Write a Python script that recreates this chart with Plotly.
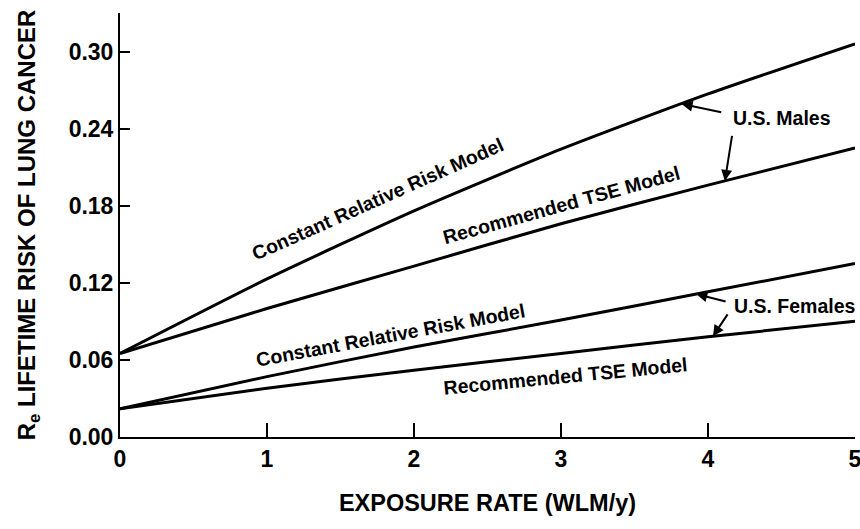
import numpy as np
import plotly.graph_objects as go

exposure = [0, 1, 2, 3, 4, 5]
male_crr = [0.065, 0.123, 0.176, 0.224, 0.267, 0.306]
male_tse = [0.065, 0.100, 0.133, 0.166, 0.196, 0.225]
female_crr = [0.022, 0.047, 0.070, 0.091, 0.113, 0.135]
female_tse = [0.022, 0.038, 0.052, 0.065, 0.078, 0.090]

x_ticks = [0, 1, 2, 3, 4, 5]
y_ticks = [0.00, 0.06, 0.12, 0.18, 0.24, 0.30]
y_tick_text = ["0.00", "0.06", "0.12", "0.18", "0.24", "0.30"]

FONT = "Liberation Sans, Arial, Helvetica, sans-serif"

fig = go.Figure()
for ys in [male_crr, male_tse, female_crr, female_tse]:
    fig.add_trace(go.Scatter(x=exposure, y=ys, mode="lines",
                             line=dict(color="black", width=3, shape="spline", smoothing=0.6),
                             showlegend=False, hoverinfo="skip"))

labels = [
    ("Constant Relative Risk Model", 1.75, 0.1855, -24.0),
    ("Recommended TSE Model", 3.0, 0.1805, -15.5),
    ("Constant Relative Risk Model", 1.84, 0.0795, -10.5),
    ("Recommended TSE Model", 3.03, 0.0475, -5.5),
    ("U.S. Males", 4.505, 0.2486, 0),
    ("U.S. Females", 4.59, 0.1021, 0),
]
for text, x, y, ang in labels:
    fig.add_annotation(x=x, y=y, xref="x", yref="y", text=f"<b>{text}</b>",
                       showarrow=False, textangle=ang,
                       font=dict(family=FONT, size=19.5, color="black"))

# arrows: (series, head x, tail x, tail y)
arrows = [
    (male_crr, 3.82, 4.1, 0.2525),
    (male_tse, 4.115, 4.165, 0.2355),
    (female_crr, 3.92, 4.13, 0.1052),
    (female_tse, 4.034, 4.14, 0.0966),
]
for ser, hx, tx, ty in arrows:
    hy = float(np.interp(hx, exposure, ser))
    fig.add_annotation(x=hx, y=hy, xref="x", yref="y", ax=tx, ay=ty,
                       axref="x", ayref="y", text="", showarrow=True,
                       arrowhead=2, arrowsize=1.1, arrowwidth=2, arrowcolor="black")

fig.update_layout(
    width=860, height=529,
    margin=dict(l=120, r=5, t=13, b=92),
    paper_bgcolor="white", plot_bgcolor="white",
    font=dict(family=FONT, size=22, color="black"),
)
fig.update_xaxes(range=[0, 5], tickvals=x_ticks, ticktext=[f"<b>{v}</b>" for v in x_ticks],
                 ticks="inside", ticklen=14, tickwidth=2, tickcolor="black",
                 showline=True, linewidth=2, linecolor="black", mirror=False,
                 showgrid=False, zeroline=False, ticklabeloverflow="allow", automargin=False,
                 tickfont=dict(family=FONT, size=23, color="black"),
                 title=dict(text="<b>EXPOSURE RATE (WLM/y)</b>", standoff=24,
                            font=dict(family=FONT, size=23.5, color="black")))
fig.update_yaxes(range=[0, 0.33], tickvals=y_ticks, ticktext=[f"<b>{t}</b>" for t in y_tick_text],
                 ticks="inside", ticklen=10, tickwidth=2, tickcolor="black",
                 showline=True, linewidth=2, linecolor="black", mirror=False,
                 showgrid=False, zeroline=False, automargin=False,
                 tickfont=dict(family=FONT, size=23, color="black"),
                 title=dict(text="<b>R<sub>e</sub> LIFETIME RISK OF LUNG CANCER</b>", standoff=26,
                            font=dict(family=FONT, size=24, color="black")))

fig.write_html("out.html")
